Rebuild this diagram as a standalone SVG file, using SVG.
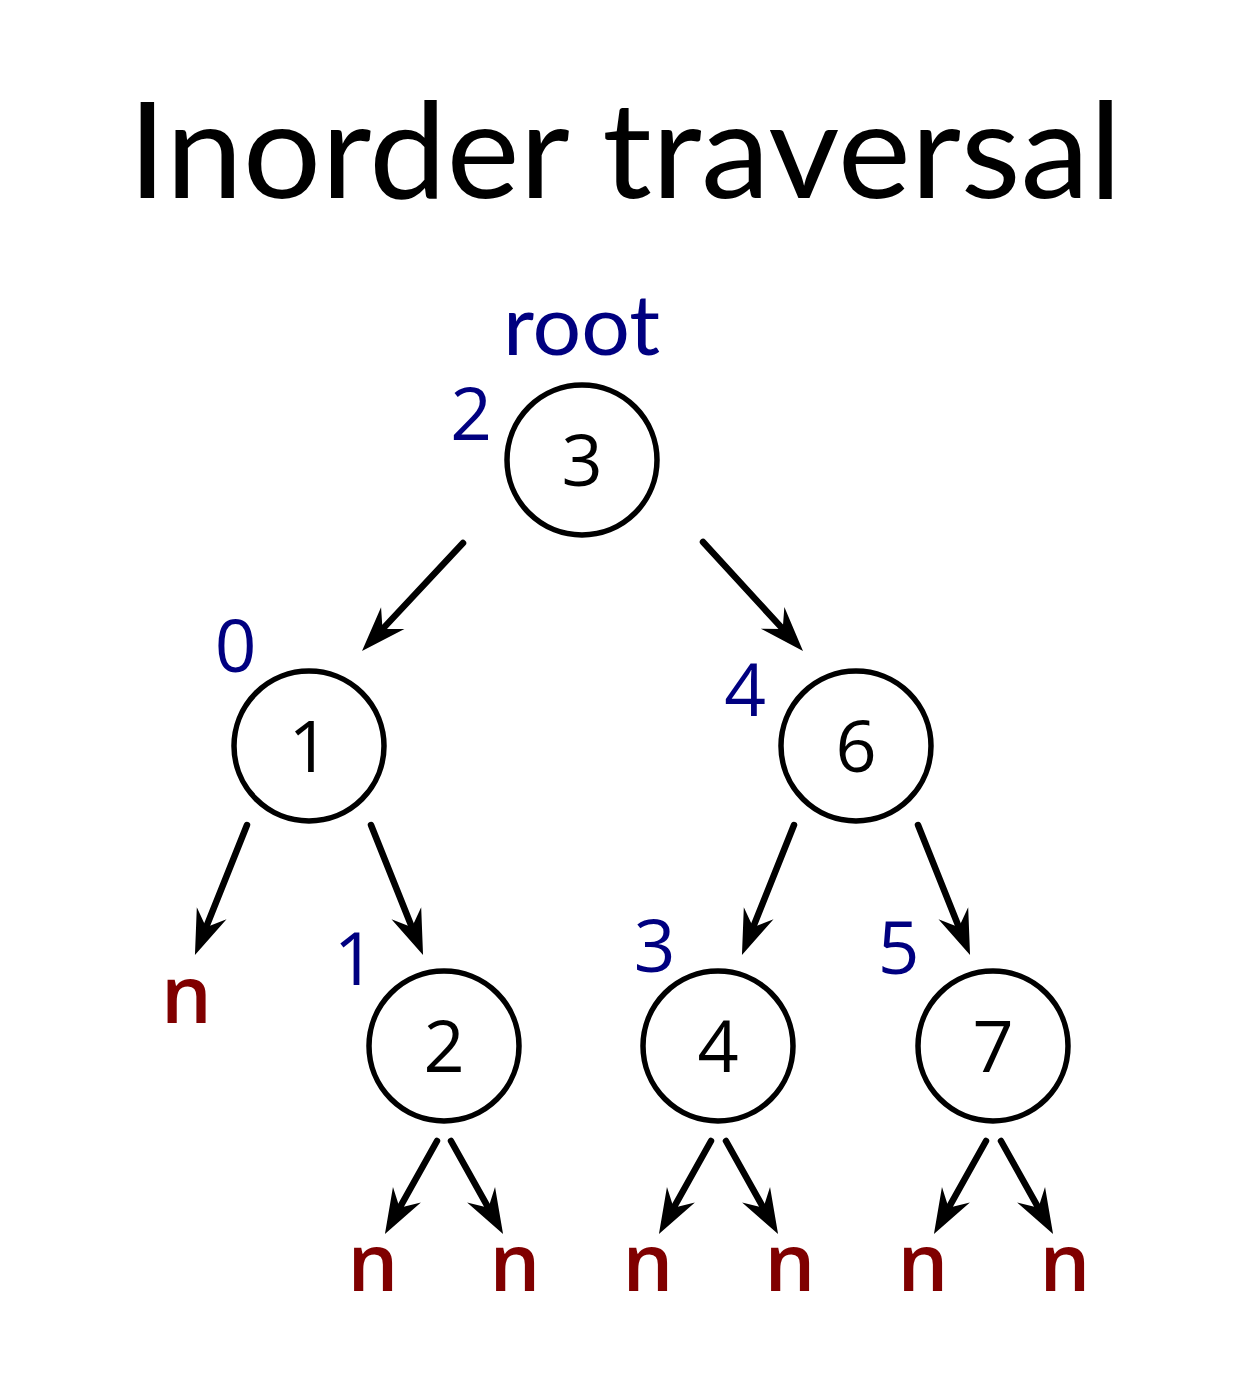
<svg xmlns="http://www.w3.org/2000/svg" width="1252" height="1397" viewBox="0 0 1252 1397">
<style>
.title{font-family:Lato,"Liberation Sans",sans-serif;font-size:133px;fill:#000}
.root{font-family:Lato,"Liberation Sans",sans-serif;font-size:84px;fill:#000080}
.idx{font-family:"Open Sans","Liberation Sans",sans-serif;font-size:73px;fill:#000080;text-anchor:middle}
.val{font-family:"Open Sans","Liberation Sans",sans-serif;font-size:72px;fill:#000;text-anchor:middle}
.nil{font-family:"Open Sans","Liberation Sans",sans-serif;font-size:80px;font-weight:600;fill:#800000;text-anchor:middle}
.node{fill:none;stroke:#000;stroke-width:5.5}
.edge{stroke:#000;stroke-width:6.5;stroke-linecap:round;fill:none;marker-end:url(#ah)}
</style>
<defs>
<marker id="ah" markerUnits="userSpaceOnUse" markerWidth="50" markerHeight="40" refX="15" refY="16" orient="auto" overflow="visible">
<path d="M45,16 L0,0 L15,16 L0,32 Z" fill="#000"/>
</marker>
</defs>
<rect width="1252" height="1397" fill="#fff"/>
<text class="title" x="128" y="198" textLength="994" lengthAdjust="spacingAndGlyphs">Inorder traversal</text>
<text class="root" x="503" y="355" textLength="157" lengthAdjust="spacingAndGlyphs">root</text>
<g id="connectors">
<line class="edge" x1="463" y1="543" x2="382.5" y2="629.1"/>
<line class="edge" x1="703" y1="542" x2="782.7" y2="628.9"/>
<line class="edge" x1="247" y1="825" x2="206.1" y2="927.2"/>
<line class="edge" x1="371" y1="825" x2="411.9" y2="927.2"/>
<line class="edge" x1="794" y1="825" x2="753.1" y2="927.2"/>
<line class="edge" x1="918" y1="825" x2="958.9" y2="927.2"/>
<line class="edge" x1="437" y1="1141" x2="399.6" y2="1207.8"/>
<line class="edge" x1="451" y1="1141" x2="488.4" y2="1207.8"/>
<line class="edge" x1="711" y1="1141" x2="673.6" y2="1207.8"/>
<line class="edge" x1="726" y1="1141" x2="763.4" y2="1207.8"/>
<line class="edge" x1="986" y1="1141" x2="948.6" y2="1207.8"/>
<line class="edge" x1="1001" y1="1141" x2="1038.4" y2="1207.8"/>
</g>
<g id="node3"><circle class="node" cx="582" cy="460" r="75"/><text class="val" x="582" y="486">3</text><text class="idx" x="471" y="440">2</text></g>
<g id="node1"><circle class="node" cx="309" cy="746" r="75"/><text class="val" x="309" y="772">1</text><text class="idx" x="235.5" y="672">0</text></g>
<g id="node6"><circle class="node" cx="856" cy="746" r="75"/><text class="val" x="856" y="772">6</text><text class="idx" x="745" y="716">4</text></g>
<g id="node2"><circle class="node" cx="444" cy="1046" r="75"/><text class="val" x="444" y="1072">2</text><text class="idx" x="354.5" y="985">1</text></g>
<g id="node4"><circle class="node" cx="718" cy="1046" r="75"/><text class="val" x="718" y="1072">4</text><text class="idx" x="654.5" y="972">3</text></g>
<g id="node7"><circle class="node" cx="993" cy="1046" r="75"/><text class="val" x="993" y="1072">7</text><text class="idx" x="898.5" y="974">5</text></g>
<g id="nulls">
<text class="nil" x="186.5" y="1023">n</text>
<text class="nil" x="373" y="1291">n</text>
<text class="nil" x="515" y="1291">n</text>
<text class="nil" x="648" y="1291">n</text>
<text class="nil" x="790" y="1291">n</text>
<text class="nil" x="923" y="1291">n</text>
<text class="nil" x="1065" y="1291">n</text>
</g>
</svg>
